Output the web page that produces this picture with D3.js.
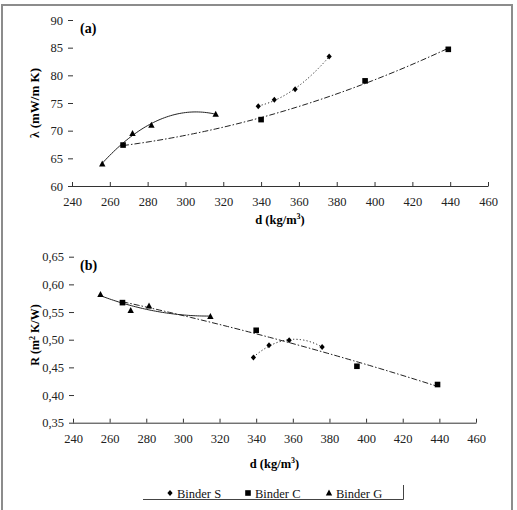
<!DOCTYPE html>
<html><head><meta charset="utf-8">
<script src="https://cdn.jsdelivr.net/npm/d3@7"></script>
<style>
body{margin:0;background:#fff;}
svg, svg text{font-family:"Liberation Serif","Times New Roman","Tinos","DejaVu Serif",serif !important;}
</style></head>
<body><svg id="c" width="517" height="510"></svg>
<script>
// ---- data ----
const xTicks = [240,260,280,300,320,340,360,380,400,420,440,460];
const yTicksA = [60,65,70,75,80,85,90];
const yTicksB = [0.35,0.40,0.45,0.50,0.55,0.60,0.65];
const seriesNames = ["Binder S","Binder C","Binder G"];

// panel (a): thermal conductivity
const dS_a = [338.5,347,358,376];
const lamS = [74.4,75.6,77.5,83.4];
const dC_a = [267,340,395,439];
const lamC = [67.4,72.0,79.0,84.7];
const dG_a = [256,272,282,316];
const lamG = [64.0,69.5,71.0,73.0];

// panel (b): thermal resistance
const dS_b = [338.5,347,358,376];
const rS = [0.468,0.490,0.499,0.487];
const dC_b = [267,340,395,439];
const rC = [0.567,0.517,0.452,0.419];
const dG_b = [255,271.5,281.5,315];
const rG = [0.582,0.553,0.561,0.542];

// ---- helpers ----
function polyfit2(xs, ys){
  const n = xs.length, m = d3.mean(xs);
  let s=[0,0,0,0,0], t=[0,0,0];
  for(let i=0;i<n;i++){const u=xs[i]-m;
    for(let k=0;k<5;k++) s[k]+=Math.pow(u,k);
    for(let k=0;k<3;k++) t[k]+=Math.pow(u,k)*ys[i];}
  const A=[[s[0],s[1],s[2],t[0]],[s[1],s[2],s[3],t[1]],[s[2],s[3],s[4],t[2]]];
  for(let i=0;i<3;i++){let p=A[i][i];
    for(let j=i;j<4;j++)A[i][j]/=p;
    for(let r=0;r<3;r++) if(r!==i){const f=A[r][i]; for(let j=i;j<4;j++)A[r][j]-=f*A[i][j];}}
  const a=A[0][3],b=A[1][3],c=A[2][3];
  return x=>{const u=x-m;return a+b*u+c*u*u;};
}
function trendPts(xs, ys){
  const f = polyfit2(xs,ys), lo=d3.min(xs), hi=d3.max(xs);
  return d3.range(0,61).map(i=>{const x=lo+(hi-lo)*i/60;return [x,f(x)];});
}

const FONT = '"Liberation Serif","Times New Roman","DejaVu Serif",serif';
const svg = d3.select("#c");
svg.append("rect").attr("x",2).attr("y",5).attr("width",510).attr("height",520)
  .attr("fill","none").attr("stroke","#8c8c8c").attr("stroke-width",2);

const styles = { S:{dash:"1.2,2.2"}, C:{dash:"6,2,1.5,2"}, G:{dash:null} };

function marker(g, type, x, y){
  if(type==="S") g.append("path").attr("d",`M${x},${y-3}L${x+2.6},${y}L${x},${y+3}L${x-2.6},${y}Z`).attr("fill","#000");
  else if(type==="C") g.append("rect").attr("x",x-2.8).attr("y",y-2.8).attr("width",5.6).attr("height",5.6).attr("fill","#000");
  else g.append("path").attr("d",`M${x},${y-3.4}L${x+3.2},${y+2.6}L${x-3.2},${y+2.6}Z`).attr("fill","#000");
}

function panel(cfg){
  const x = d3.scaleLinear().domain([240,460]).range(cfg.xr);
  const y = d3.scaleLinear().domain(cfg.yd).range(cfg.yr);
  const g = svg.append("g");
  const xa = g.append("g").attr("transform",`translate(0,${cfg.yr[0]})`)
    .call(d3.axisBottom(x).tickValues(xTicks).tickSizeInner(-4).tickSizeOuter(0).tickPadding(11).tickFormat(d3.format("d")));
  xa.attr("font-family",FONT);
  xa.select(".domain").attr("stroke","#333");
  xa.selectAll(".tick line").attr("stroke","#333");
  xa.selectAll("text").attr("font-size","12.5px").attr("fill","#222").style("font-family",FONT);
  const ya = g.append("g").attr("transform",`translate(${cfg.xr[0]},0)`)
    .call(d3.axisLeft(y).tickValues(cfg.yt).tickSizeInner(5).tickSizeOuter(0).tickPadding(4).tickFormat(cfg.fmt));
  ya.attr("font-family",FONT);
  ya.select(".domain").remove();
  ya.selectAll(".tick line").attr("stroke","#333").attr("transform","translate(1,0)");
  ya.selectAll("text").attr("font-size","12.5px").attr("fill","#222").style("font-family",FONT);
  const line = d3.line().x(d=>x(d[0])).y(d=>y(d[1]));
  cfg.series.forEach(s=>{
    g.append("path").attr("d",line(trendPts(s.xs,s.ys))).attr("fill","none")
      .attr("stroke","#222").attr("stroke-width",1).attr("stroke-dasharray",styles[s.k].dash);
  });
  cfg.series.forEach(s=>{ s.xs.forEach((v,i)=>marker(g,s.k,x(v),y(s.ys[i]))); });
  g.append("text").attr("x",80).attr("y",cfg.lblY).attr("font-weight","bold").attr("font-size","14px").style("font-family",FONT).text(cfg.lbl);
  g.append("text").attr("x",(cfg.xr[0]+cfg.xr[1])/2).attr("y",cfg.xtY).attr("text-anchor","middle")
    .attr("font-weight","bold").attr("font-size","12.5px").style("font-family",FONT)
    .html('d (kg/m<tspan dy="-5" font-size="8px">3</tspan><tspan dy="5">)</tspan>');
  g.append("text").attr("transform",`translate(39,${cfg.ytC}) rotate(-90)`).attr("text-anchor","middle")
    .attr("font-weight",cfg.ytW).attr("font-size",cfg.ytS).style("font-family",FONT).html(cfg.yt_html);
}

panel({xr:[72,488], yd:[60,90], yr:[186,20], yt:yTicksA, fmt:d3.format("d"),
  series:[{k:"S",xs:dS_a,ys:lamS},{k:"C",xs:dC_a,ys:lamC},{k:"G",xs:dG_a,ys:lamG}],
  lbl:"(a)", lblY:33, xtY:224, ytC:103, ytW:"bold", ytS:"13px", yt_html:"λ (mW/m K)"});

panel({xr:[73,476], yd:[0.35,0.65], yr:[422.7,256.7], yt:yTicksB, fmt:d=>d3.format(".2f")(d).replace(".",","),
  series:[{k:"S",xs:dS_b,ys:rS},{k:"C",xs:dC_b,ys:rC},{k:"G",xs:dG_b,ys:rG}],
  lbl:"(b)", lblY:270, xtY:468, ytC:335, ytW:"bold", ytS:"12px",
  yt_html:'R (m<tspan dy="-4" font-size="8px">2</tspan><tspan dy="4"> K/W)</tspan>'});

const lg = svg.append("g");
lg.append("path").attr("d","M143,499.5H403.5V485").attr("fill","none").attr("stroke","#444").attr("stroke-width",1);
const legX = [170,248,329], keys=["S","C","G"];
seriesNames.forEach((n,i)=>{
  marker(lg, keys[i], legX[i], 493);
  lg.append("text").attr("x",legX[i]+7).attr("y",497.5).attr("font-size","12.5px").attr("fill","#111").style("font-family",FONT).text(n);
});
</script></body></html>
